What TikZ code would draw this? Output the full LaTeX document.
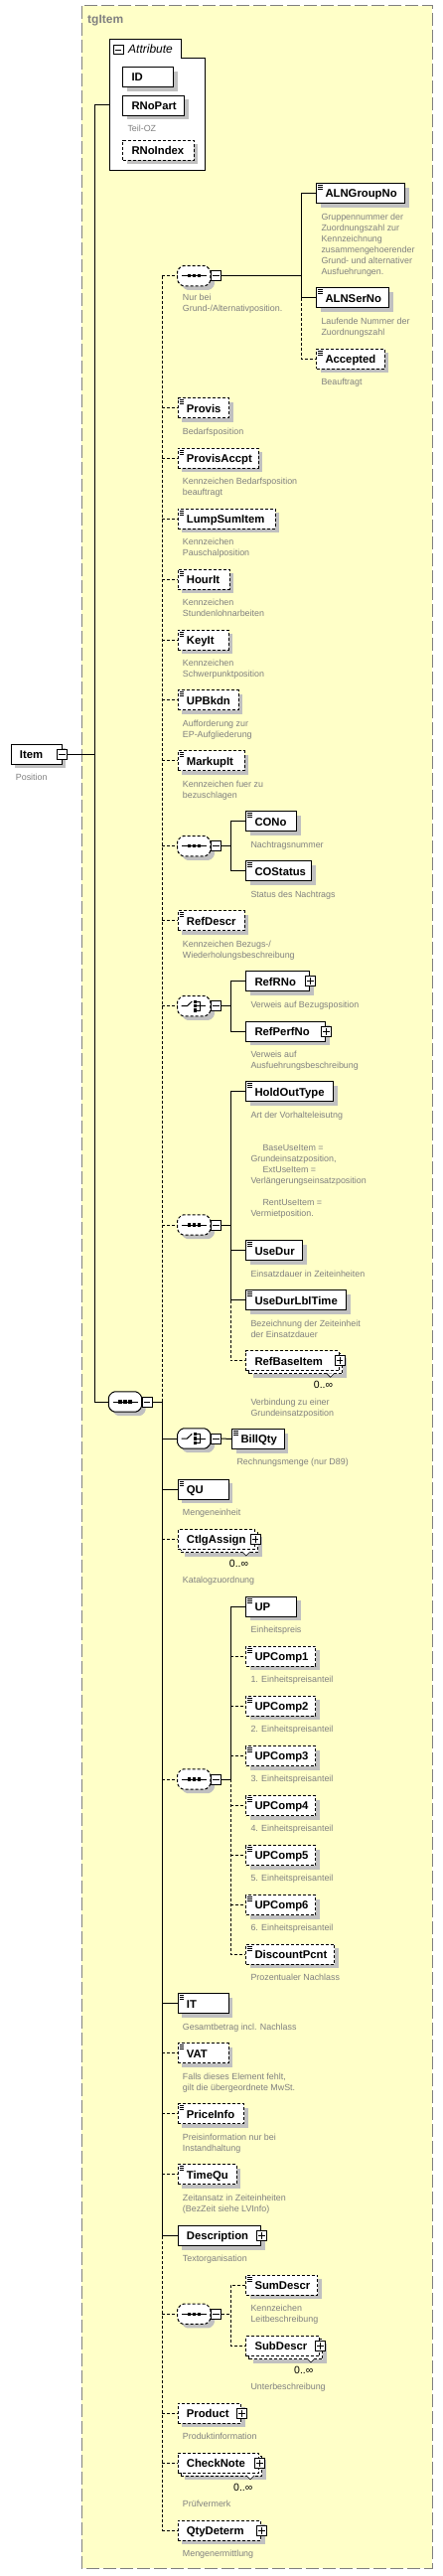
\documentclass[tikz,border=0pt]{standalone}
\usepackage{fontspec}
\setmainfont{Liberation Sans}
\usetikzlibrary{shadows}
\definecolor{bgy}{RGB}{255,255,200}
\definecolor{grt}{RGB}{128,128,128}
\definecolor{shc}{RGB}{192,192,192}
\newcommand\xnl{\\\strut}
% element box: name, x, y, width, style, label
\newcommand\xel[6]{%
 \node[elbox,shd,#5,minimum width=#4pt] (#1) at (#2,#3) {};
 \node[ename] (#1-t) at ([xshift=9pt,yshift=-14.7pt]#1.north west) {#6};}
% multiple-occurrence element
\newcommand\xmul[6]{%
 \node[elbox,shd,#5,minimum width=#4pt] (#1-b) at (#2+3,#3+3) {};
 \node[elbox,#5,minimum width=#4pt] (#1) at (#2,#3) {};
 \node[ename] (#1-t) at ([xshift=9pt,yshift=-14.7pt]#1.north west) {#6};
 \draw[line width=0.6pt,fill=white] ([xshift=-13.3pt,yshift=-2pt]#1.south east) -- ++(4,4) -- ++(4,-4);
 \node[mult] (#1-n) at ([xshift=-16.5pt,yshift=-13.7pt]#1.south east) {0..∞};}
% simple-type icon
\newcommand\xic[1]{\draw[line width=0.7pt]
 ([xshift=2pt,yshift=-2.3pt]#1.north west) -- ++(4.7,0)
 ([xshift=2pt,yshift=-4.3pt]#1.north west) -- ++(4.7,0)
 ([xshift=2pt,yshift=-6.3pt]#1.north west) -- ++(4.7,0);}
% plus box on right edge
\newcommand\xpl[1]{\node[pm] (#1-p) at (#1.east) {};
 \draw[line width=0.8pt] ([xshift=2pt]#1-p.west) -- ([xshift=-2pt]#1-p.east)
 ([yshift=-2pt]#1-p.north) -- ([yshift=2pt]#1-p.south);}
% minus box
\newcommand\xmi[2]{\node[pm] (#1) at (#2) {};
 \draw[line width=0.8pt] ([xshift=2pt]#1.west) -- ([xshift=-2pt]#1.east);}
% description
\newcommand\xds[3][7.9]{\node[edesc] (#2-d) at ([xshift=5pt,yshift=-#1pt]#2.south west) {\strut #3};}
% compositor: name, cx, cy, style
\newcommand\xcomp[4]{%
 \node[inner sep=0pt,minimum width=33.3pt,minimum height=20.3pt] (#1) at (#2,#3) {};
 \fill[shc,rounded corners=1.5pt,xshift=4pt,yshift=-4pt] (#2-16.65,#3-5.65) -- (#2-12.15,#3-10.15) -- (#2+12.15,#3-10.15) -- (#2+16.65,#3-5.65) -- (#2+16.65,#3+5.65) -- (#2+12.15,#3+10.15) -- (#2-12.15,#3+10.15) -- (#2-16.65,#3+5.65) -- cycle;
 \draw[line width=1pt,fill=white,rounded corners=1.5pt,#4] (#2-16.65,#3-5.65) -- (#2-12.15,#3-10.15) -- (#2+12.15,#3-10.15) -- (#2+16.65,#3-5.65) -- (#2+16.65,#3+5.65) -- (#2+12.15,#3+10.15) -- (#2-12.15,#3+10.15) -- (#2-16.65,#3+5.65) -- cycle;
 \xmi{#1-m}{#2+22,#3}}
% sequence icon
\newcommand\xseqi[1]{%
 \draw[line width=1pt] ([xshift=-12.3pt]#1.center) -- ([xshift=12.7pt]#1.center);
 \fill ([xshift=-6.7pt,yshift=1.7pt]#1.center) rectangle ++(3.4,3.4);
 \fill ([xshift=-1.7pt,yshift=1.7pt]#1.center) rectangle ++(3.4,3.4);
 \fill ([xshift=3.3pt,yshift=1.7pt]#1.center) rectangle ++(3.4,3.4);}
% choice icon
\newcommand\xchi[1]{%
 \draw[line width=1pt] ([xshift=-12.7pt]#1.center) -- ([xshift=-7pt]#1.center) -- ([xshift=-2pt,yshift=4.7pt]#1.center);
 \fill ([xshift=-0.4pt,yshift=6pt]#1.center) rectangle ++(3.4,3.4);
 \fill ([xshift=-0.4pt,yshift=1.7pt]#1.center) rectangle ++(3.4,3.4);
 \fill ([xshift=-0.4pt,yshift=-2.6pt]#1.center) rectangle ++(3.4,3.4);
 \draw[line width=0.8pt] ([xshift=3pt,yshift=4.3pt]#1.center) -- ([xshift=5.7pt,yshift=4.3pt]#1.center) -- ([xshift=5.7pt,yshift=-4.3pt]#1.center) -- ([xshift=3pt,yshift=-4.3pt]#1.center)
 ([xshift=3pt]#1.center) -- ([xshift=12pt]#1.center);}
\begin{document}
\begin{tikzpicture}[x=1pt,y=-1pt,
 ln/.style={line width=1pt},
 dsh/.style={dash pattern=on 3pt off 2pt},
 elbox/.style={draw,line width=1pt,fill=white,minimum height=20pt,inner sep=0pt,anchor=north west},
 shd/.style={drop shadow={shadow xshift=4pt,shadow yshift=-4pt,opacity=1,fill=shc}},
 ename/.style={font=\fontsize{11.3}{13}\selectfont\bfseries,inner sep=0pt,anchor=base west},
 edesc/.style={font=\fontsize{8.9}{11}\selectfont,text=grt,inner sep=0pt,align=left,anchor=north west},
 pm/.style={draw,fill=white,line width=0.8pt,minimum size=10pt,inner sep=0pt},
 mult/.style={font=\fontsize{10.5}{12}\selectfont,inner sep=0pt},
]
\useasboundingbox (0,0) rectangle (446,2593);
\fill[white] (0,0) rectangle (446,2593);
% complex type frame
\fill[bgy] (82,6) rectangle (435,2585);
\draw[grt,line width=1pt,dash pattern=on 13pt off 4pt] (82,6) rectangle (435,2585);
\node[font=\fontsize{12}{14}\selectfont\bfseries,text=grt,inner sep=0pt,anchor=base west] (tgl) at (88,24) {tgItem};

\coordinate (spA) at (95,0);
\coordinate (spB) at (163.3,0);
\coordinate (spC) at (303.3,0);
\coordinate (spD) at (232.3,0);

% attributes
\draw[ln,fill=white] (110,39.3) -- (182.7,39.3) -- (182.7,58.3) -- (206.7,58.3) -- (206.7,171.3) -- (110,171.3) -- cycle;
\node[draw,line width=0.8pt,fill=white,minimum size=9.3pt,inner sep=0pt] (attm) at (119.3,50) {};
\draw[line width=0.8pt] ([xshift=2pt]attm.west) -- ([xshift=-2pt]attm.east);
\node[font=\fontsize{12}{14}\selectfont\itshape,inner sep=0pt,anchor=base west] (attl) at (129,54) {Attribute};
\coordinate (attW) at (110,105.7);
\xel{ID}{123.3}{67.3}{51}{solid}{ID}
\xel{RNoPart}{123.3}{95.7}{62}{solid}{RNoPart}\xds{RNoPart}{Teil-OZ}
\xel{RNoIndex}{123.3}{140.7}{71.4}{dsh}{RNoIndex}

% Item
\xel{Item}{10.7}{748.7}{51}{solid}{Item}
\xmi{Item-m}{Item.east}
\xds[7.5]{Item}{Position}

% main sequence
\xcomp{ms}{126}{1411}{solid}\xseqi{ms}
\draw[ln] (attW -| spA) -- (attW);
\draw[ln] (attW -| spA) -- (ms.west -| spA) -- (ms.west);
\draw[ln] (Item-m.east) -- (Item-m.east -| spA);
\draw[ln] (ms-m.east) -- (ms-m.east -| spB);

% sequence 1
\xcomp{s1}{195.3}{277.7}{dsh}\xseqi{s1}
\node[edesc] (s1-d) at (183.7,294.8) {\strut Nur bei\xnl Grund-/Alternativposition.};
\xel{ALNGroupNo}{318.3}{184.3}{89}{solid}{ALNGroupNo}\xic{ALNGroupNo}
\xds{ALNGroupNo}{Gruppennummer der\xnl Zuordnungszahl zur\xnl Kennzeichnung\xnl zusammengehoerender\xnl Grund- und alternativer\xnl Ausfuehrungen.}
\xel{ALNSerNo}{318.3}{289.3}{73}{solid}{ALNSerNo}\xic{ALNSerNo}
\xds{ALNSerNo}{Laufende Nummer der\xnl Zuordnungszahl}
\xel{Accepted}{318.3}{350.7}{68.4}{dsh}{Accepted}\xic{Accepted}
\xds{Accepted}{Beauftragt}
\draw[ln] (s1-m.east) -- (s1-m.east -| spC);
\draw[ln] (ALNGroupNo.west) -- (ALNGroupNo.west -| spC) -- (ALNSerNo.west -| spC) -- (ALNSerNo.west);
\draw[ln,dsh] (ALNSerNo.west -| spC) -- (Accepted.west -| spC) -- (Accepted.west);

% optional simple elements
\xel{Provis}{178.7}{400.3}{51.3}{dsh}{Provis}\xic{Provis}\xds{Provis}{Bedarfsposition}
\xel{ProvisAccpt}{178.7}{450.7}{81}{dsh}{ProvisAccpt}\xic{ProvisAccpt}\xds{ProvisAccpt}{Kennzeichen Bedarfsposition\xnl beauftragt}
\xel{LumpSumItem}{178.7}{511.7}{98}{dsh}{LumpSumItem}\xic{LumpSumItem}\xds{LumpSumItem}{Kennzeichen\xnl Pauschalposition}
\xel{HourIt}{178.7}{572.7}{52}{dsh}{HourIt}\xic{HourIt}\xds{HourIt}{Kennzeichen\xnl Stundenlohnarbeiten}
\xel{KeyIt}{178.7}{633.7}{51}{dsh}{KeyIt}\xic{KeyIt}\xds{KeyIt}{Kennzeichen\xnl Schwerpunktposition}
\xel{UPBkdn}{178.7}{694.3}{61}{dsh}{UPBkdn}\xic{UPBkdn}\xds{UPBkdn}{Aufforderung zur\xnl EP-Aufgliederung}
\xel{MarkupIt}{178.7}{755.3}{67}{dsh}{MarkupIt}\xic{MarkupIt}\xds{MarkupIt}{Kennzeichen fuer zu\xnl bezuschlagen}

% sequence 2
\xcomp{s2}{195.3}{851.7}{dsh}\xseqi{s2}
\xel{CONo}{247.3}{816.3}{51}{solid}{CONo}\xic{CONo}\xds{CONo}{Nachtragsnummer}
\xel{COStatus}{247.3}{866.3}{66}{solid}{COStatus}\xic{COStatus}\xds{COStatus}{Status des Nachtrags}
\draw[ln] (s2-m.east) -- (s2-m.east -| spD);
\draw[ln] (CONo.west) -- (CONo.west -| spD) -- (COStatus.west -| spD) -- (COStatus.west);

\xel{RefDescr}{178.7}{916.3}{67}{dsh}{RefDescr}\xic{RefDescr}\xds{RefDescr}{Kennzeichen Bezugs-/\xnl Wiederholungsbeschreibung}

% choice 1
\xcomp{c1}{195.3}{1012.7}{dsh}\xchi{c1}
\xel{RefRNo}{247.3}{977.3}{64}{solid}{RefRNo}\xpl{RefRNo}\xds{RefRNo}{Verweis auf Bezugsposition}
\xel{RefPerfNo}{247.3}{1027.7}{80}{solid}{RefPerfNo}\xpl{RefPerfNo}\xds{RefPerfNo}{Verweis auf\xnl Ausfuehrungsbeschreibung}
\draw[ln] (c1-m.east) -- (c1-m.east -| spD);
\draw[ln] (RefRNo.west) -- (RefRNo.west -| spD) -- (RefPerfNo.west -| spD) -- (RefPerfNo.west);

% sequence 3
\xcomp{s3}{195.3}{1233}{dsh}\xseqi{s3}
\xel{HoldOutType}{247.3}{1088.3}{88}{solid}{HoldOutType}\xic{HoldOutType}
\xds{HoldOutType}{Art der Vorhalteleisutng\xnl\xnl\xnl\hspace*{12pt}BaseUseItem =\xnl Grundeinsatzposition,\xnl\hspace*{12pt}ExtUseItem =\xnl Verlängerungseinsatzposition\xnl\xnl\hspace*{12pt}RentUseItem =\xnl Vermietposition.}
\xel{UseDur}{247.3}{1248.3}{57}{solid}{UseDur}\xic{UseDur}\xds{UseDur}{Einsatzdauer in Zeiteinheiten}
\xel{UseDurLblTime}{247.3}{1298.3}{101}{solid}{UseDurLblTime}\xic{UseDurLblTime}\xds{UseDurLblTime}{Bezeichnung der Zeiteinheit\xnl der Einsatzdauer}
\xmul{RefBaseItem}{247.3}{1359.3}{93.7}{dsh}{RefBaseItem}\xpl{RefBaseItem}\xds[25.9]{RefBaseItem}{Verbindung zu einer\xnl Grundeinsatzposition}
\draw[ln] (s3-m.east) -- (s3-m.east -| spD);
\draw[ln] (HoldOutType.west) -- (HoldOutType.west -| spD) -- (UseDurLblTime.west -| spD) -- (UseDurLblTime.west);
\draw[ln] (UseDur.west -| spD) -- (UseDur.west);
\draw[ln,dsh] (UseDurLblTime.west -| spD) -- (RefBaseItem.west -| spD) -- (RefBaseItem.west);

% choice 2
\xcomp{c2}{195.3}{1448}{solid}\xchi{c2}
\xel{BillQty}{233.3}{1438}{52.4}{solid}{BillQty}\xic{BillQty}\xds{BillQty}{Rechnungsmenge (nur D89)}
\draw[ln] (c2-m.east) -- (BillQty.west);

\xel{QU}{178.7}{1488.7}{51}{solid}{QU}\xic{QU}\xds{QU}{Mengeneinheit}
\xmul{CtlgAssign}{178.7}{1539}{77.3}{dsh}{CtlgAssign}\xpl{CtlgAssign}\xds[25.5]{CtlgAssign}{Katalogzuordnung}

% sequence 4
\xcomp{s4}{195.3}{1791}{dsh}\xseqi{s4}
\xel{UP}{247.3}{1606.7}{51}{solid}{UP}\xic{UP}\xds{UP}{Einheitspreis}
\xel{UPComp1}{247.3}{1656.7}{70}{dsh}{UPComp1}\xic{UPComp1}\xds{UPComp1}{1. Einheitspreisanteil}
\xel{UPComp2}{247.3}{1706.7}{70}{dsh}{UPComp2}\xic{UPComp2}\xds{UPComp2}{2. Einheitspreisanteil}
\xel{UPComp3}{247.3}{1757}{70}{dsh}{UPComp3}\xic{UPComp3}\xds{UPComp3}{3. Einheitspreisanteil}
\xel{UPComp4}{247.3}{1807}{70}{dsh}{UPComp4}\xic{UPComp4}\xds{UPComp4}{4. Einheitspreisanteil}
\xel{UPComp5}{247.3}{1857}{70}{dsh}{UPComp5}\xic{UPComp5}\xds{UPComp5}{5. Einheitspreisanteil}
\xel{UPComp6}{247.3}{1907}{70}{dsh}{UPComp6}\xic{UPComp6}\xds{UPComp6}{6. Einheitspreisanteil}
\xel{DiscountPcnt}{247.3}{1956.7}{89}{dsh}{DiscountPcnt}\xic{DiscountPcnt}\xds{DiscountPcnt}{Prozentualer Nachlass}
\draw[ln] (s4-m.east) -- (s4-m.east -| spD);
\draw[ln] (UP.west) -- (UP.west -| spD) -- (s4-m.east -| spD);
\draw[ln,dsh] (s4-m.east -| spD) -- (DiscountPcnt.west -| spD) -- (DiscountPcnt.west);
\foreach \n in {UPComp1,UPComp2,UPComp3,UPComp4,UPComp5,UPComp6}
 \draw[ln,dsh] (\n.west -| spD) -- (\n.west);

\xel{IT}{178.7}{2006.3}{51}{solid}{IT}\xic{IT}\xds{IT}{Gesamtbetrag incl. Nachlass}
\xel{VAT}{178.7}{2056.3}{51}{dsh}{VAT}\xic{VAT}\xds{VAT}{Falls dieses Element fehlt,\xnl gilt die übergeordnete MwSt.}
\xel{PriceInfo}{178.7}{2117.3}{66.3}{dsh}{PriceInfo}\xic{PriceInfo}\xds{PriceInfo}{Preisinformation nur bei\xnl Instandhaltung}
\xel{TimeQu}{178.7}{2178.3}{59}{dsh}{TimeQu}\xic{TimeQu}\xds{TimeQu}{Zeitansatz in Zeiteinheiten\xnl (BezZeit siehe LVInfo)}
\xel{Description}{178.7}{2240}{83.6}{solid}{Description}\xpl{Description}\xds{Description}{Textorganisation}

% sequence 5
\xcomp{s5}{195.3}{2329.3}{dsh}\xseqi{s5}
\xel{SumDescr}{247.3}{2289.7}{72}{dsh}{SumDescr}\xic{SumDescr}\xds{SumDescr}{Kennzeichen\xnl Leitbeschreibung}
\xmul{SubDescr}{247.3}{2351}{74}{dsh}{SubDescr}\xpl{SubDescr}\xds[25.2]{SubDescr}{Unterbeschreibung}
\draw[ln,dsh] (s5-m.east) -- (s5-m.east -| spD);
\draw[ln,dsh] (SumDescr.west) -- (SumDescr.west -| spD) -- (SubDescr.west -| spD) -- (SubDescr.west);

\xel{Product}{178.7}{2418.7}{63.6}{dsh}{Product}\xpl{Product}\xds{Product}{Produktinformation}
\xmul{CheckNote}{178.7}{2468.7}{81.6}{dsh}{CheckNote}\xpl{CheckNote}\xds[25.4]{CheckNote}{Prüfvermerk}
\xel{QtyDeterm}{178.7}{2536.7}{83.6}{dsh}{QtyDeterm}\xpl{QtyDeterm}\xds{QtyDeterm}{Mengenermittlung}

% main spine
\draw[ln,dsh] (s1.west -| spB) -- (ms-m.east -| spB);
\draw[ln] (ms-m.east -| spB) -- (Description.west -| spB);
\draw[ln,dsh] (Description.west -| spB) -- (QtyDeterm.west -| spB);
\foreach \n in {s1,Provis,ProvisAccpt,LumpSumItem,HourIt,KeyIt,UPBkdn,MarkupIt,s2,RefDescr,c1,s3,CtlgAssign,s4,VAT,PriceInfo,TimeQu,s5,Product,CheckNote,QtyDeterm}
 \draw[ln,dsh] (\n.west -| spB) -- (\n.west);
\foreach \n in {c2,QU,IT,Description}
 \draw[ln] (\n.west -| spB) -- (\n.west);
\end{tikzpicture}
\end{document}
